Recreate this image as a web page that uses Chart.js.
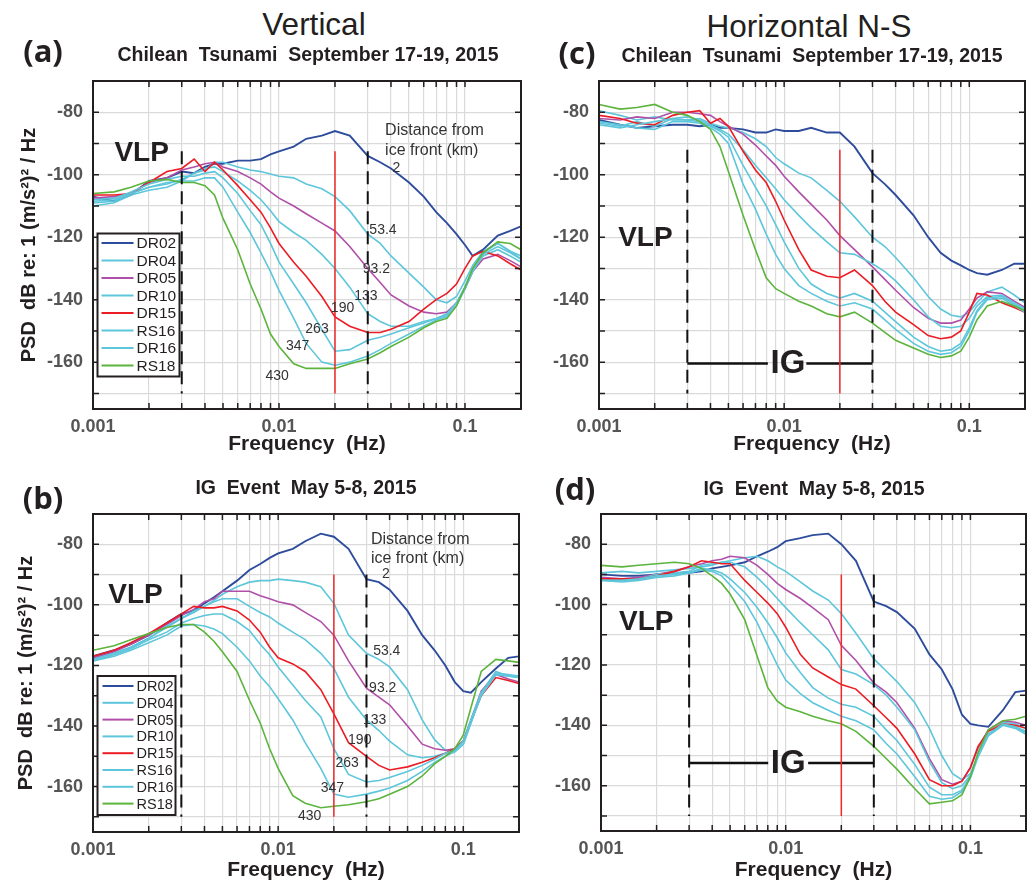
<!DOCTYPE html>
<html lang="en">
<head>
<meta charset="UTF-8">
<title>PSD spectra - Chilean tsunami and IG event</title>
<script src="https://cdn.jsdelivr.net/npm/chart.js"></script>
<style>
  body { margin: 0; background: #fff; }
  #fig { position: relative; width: 1035px; height: 883px; overflow: hidden; background: #fff;
         font-family: "Liberation Sans", Arial, Helvetica, sans-serif; color: #231f20; }
  #fig canvas { position: absolute; }
  .t { position: absolute; white-space: pre; line-height: 1; transform: translate(-50%, -50%); }
  .big { font-size: 31.5px; }
  .sub { font-size: 19.5px; font-weight: bold; }
  .tag { font-family: "Open Sans", sans-serif; font-weight: 700; font-size: 31px; }
</style>
</head>
<body>
<div id="fig">
  <canvas id="pa"></canvas>
  <canvas id="pb"></canvas>
  <canvas id="pc"></canvas>
  <canvas id="pd"></canvas>

  <div class="t big" style="left:314px;top:25px">Vertical</div>
  <div class="t big" style="left:809px;top:27px">Horizontal N-S</div>
  <div class="t tag" style="left:43px;top:50px">(a)</div>
  <div class="t tag" style="left:577px;top:52px">(c)</div>
  <div class="t tag" style="left:43px;top:497px">(b)</div>
  <div class="t tag" style="left:575px;top:488px">(d)</div>
  <div class="t sub" style="left:308px;top:55px">Chilean  Tsunami  September 17-19, 2015</div>
  <div class="t sub" style="left:812px;top:56px">Chilean  Tsunami  September 17-19, 2015</div>
  <div class="t sub" style="left:306px;top:488px">IG  Event  May 5-8, 2015</div>
  <div class="t sub" style="left:814px;top:489px">IG  Event  May 5-8, 2015</div>
</div>

<script>
// frequencies (Hz) shared by every spectrum
const freqs = [0.001, 0.0013, 0.0016, 0.002, 0.0025, 0.003, 0.0035, 0.004, 0.0045, 0.005,
               0.006, 0.007, 0.008, 0.009, 0.01, 0.012, 0.014, 0.017, 0.02, 0.024,
               0.03, 0.035, 0.04, 0.05, 0.06, 0.07, 0.08, 0.09, 0.1, 0.11,
               0.125, 0.15, 0.175, 0.2];

const stations = ['DR02', 'DR04', 'DR05', 'DR10', 'DR15', 'RS16', 'DR16', 'RS18'];

// (a) vertical, Chilean tsunami
const a_DR02 = [-107, -108.5, -106.5, -102, -101, -99, -99.5, -97.5, -96.5, -96.5, -95.5, -95.5, -95, -93.5, -92.5, -91, -88.5, -87.5, -86, -87.5, -94, -96, -98, -102.5, -107, -112, -115.5, -119, -122.5, -126, -124, -119.5, -118, -116.5];
const a_DR04 = [-109, -108.5, -106, -104, -103, -101.5, -99.5, -98.5, -96, -96, -97.5, -98.5, -99, -99.8, -100.5, -101, -103, -104.5, -107, -111.5, -119, -122, -126, -131.5, -136, -140, -141, -139, -134, -129, -124.5, -122, -124.5, -127];
const a_DR05 = [-107.5, -107, -106, -102.5, -101, -98.5, -97.5, -96.5, -96, -97.5, -99, -101, -103, -105.5, -107.5, -110, -112.5, -115.5, -118, -123, -130, -134.5, -138.5, -142, -144, -144.5, -144, -141, -136.5, -131, -127, -125.5, -127.5, -129.5];
const a_DR10 = [-110, -109, -106.5, -105, -104, -102, -99.5, -98, -97.5, -99, -102, -105, -108, -111.5, -115, -118.5, -121, -125.5, -130, -136, -144.5, -147, -148.5, -148.5, -147, -146, -144.5, -141, -136, -130.5, -126, -124, -126, -128];
const a_DR15 = [-106.5, -106.5, -106, -102.5, -99, -98, -95, -99, -96, -98.5, -103.5, -108, -112, -117, -122, -128, -132.5, -139, -145.5, -148.5, -150.5, -150.5, -149.5, -147, -143, -140, -138, -135, -130, -126, -124.5, -126, -128.5, -130.5];
const a_RS16 = [-108, -107.5, -105.5, -103, -101.5, -100.5, -100.5, -99.5, -99, -101, -106, -111.5, -116, -122, -128, -135, -141, -149.5, -156.5, -156, -153, -152, -151, -149, -147.5, -146, -145, -141, -136, -130, -125, -122, -124.5, -126];
const a_DR16 = [-108.5, -108, -106, -104, -102.5, -102, -102, -101, -101, -104, -112, -118.5, -125, -131, -137, -146, -154, -160, -161, -160, -158, -156, -154, -151, -148.5, -146.5, -145.5, -142, -136.5, -131, -125.5, -123, -125, -127];
const a_RS18 = [-106, -105.5, -104, -102, -101.5, -102.5, -102.5, -103.5, -106.5, -114, -124, -135, -143, -151, -155, -160.5, -162, -162, -162, -160.5, -159, -157, -155, -152, -149, -147, -146, -142, -136, -130, -125, -121.5, -122, -124];

// (b) vertical, IG event
const b_DR02 = [-117, -115, -113, -110, -106, -103, -102, -99.5, -97.5, -95.5, -92, -88.5, -86.5, -84.5, -83, -81.5, -79, -76.5, -77.5, -81.5, -91.5, -92.5, -95, -102, -110, -115, -120, -125.5, -128.5, -129, -125.5, -121, -117.5, -117];
const b_DR04 = [-118, -116, -114, -111, -107.5, -104.5, -102.5, -100.5, -98.5, -96.5, -94, -92.5, -92, -92, -91.5, -92, -92.5, -94, -99.5, -110, -116, -118, -120.5, -128, -138, -144.5, -148, -148.5, -146, -139, -129, -122, -123.5, -124];
const b_DR05 = [-117.5, -115.5, -113, -110, -106.5, -103.5, -101.5, -99, -98, -95.5, -95.5, -95.5, -97, -98, -99, -100, -102.5, -105.5, -110, -118.5, -127.5, -130.5, -133, -140, -146, -147.5, -148, -147.5, -145, -138, -128.5, -123, -124.5, -125.5];
const b_DR10 = [-118, -116, -114, -111, -107, -104.5, -102, -100.5, -99, -98, -98, -100.5, -102.5, -104, -106, -109, -111.5, -116, -121, -130.5, -138, -141.5, -145, -149.5, -150.5, -150, -149, -148, -145, -138, -129, -123, -123.5, -124];
const b_DR15 = [-117, -115, -112.5, -109.5, -106, -103, -100.5, -101, -101, -100.5, -102, -105, -109, -114, -117.5, -119.5, -122, -128, -136, -145.5, -150, -153, -154.5, -153.5, -152, -150.5, -149, -147.5, -145, -138.5, -130, -124, -125, -126];
const b_RS16 = [-118.5, -116.5, -114.5, -111.5, -109, -106, -104.5, -103.5, -103, -103, -105.5, -108.5, -113, -116.5, -120.5, -126.5, -131.5, -137, -147.5, -156, -158.5, -158, -157, -155, -153, -151, -149, -148, -145, -138, -129, -122.5, -123, -123.5];
const b_DR16 = [-118.5, -117, -115, -112.5, -110, -107, -106.5, -107, -108, -109.5, -114, -118.5, -123.5, -127, -131, -138, -145.5, -154, -162.5, -163.5, -162.5, -161.5, -160.5, -158, -155, -152, -150, -148.5, -146, -139, -130, -123, -123.5, -124];
const b_RS18 = [-115, -113.5, -111.5, -109.5, -107.5, -106.5, -106.5, -109, -112, -115.5, -122, -131.5, -139, -147.5, -154, -163, -165.5, -167, -166.5, -166, -165, -164, -162.5, -160, -156.5, -152.5, -150, -147.5, -143, -134, -122, -118, -118.5, -119];

// (c) horizontal N-S, Chilean tsunami
const c_DR02 = [-82.5, -84, -85, -84.5, -84, -84, -84.5, -84, -85, -85, -85.5, -86.5, -86.5, -85.5, -86, -86, -85, -86.5, -86.5, -91, -99.5, -103, -106.5, -113, -120, -125, -127.5, -129, -130.5, -131.5, -132, -130.5, -128.5, -128.5];
const c_DR04 = [-79.5, -81, -82.5, -81.5, -82.5, -82.5, -82, -83.5, -84.5, -85, -86.5, -88.5, -91, -94.5, -96.5, -99.5, -101, -105, -108.5, -113.5, -120, -123, -126.5, -133, -139, -143, -145, -145.5, -144, -141, -137.5, -136, -138.5, -141];
const c_DR05 = [-82, -82.5, -81.5, -82, -80, -80, -80.5, -81, -83, -84.5, -87, -90.5, -94, -97, -100.5, -105.5, -109.5, -114.5, -119.5, -124, -129.5, -133.5, -137, -142.5, -146, -147.5, -147.5, -146.5, -143, -139.5, -137.5, -138, -140.5, -142.5];
const c_DR10 = [-83.5, -84.5, -83, -84.5, -82, -81.5, -82.5, -84, -85.5, -87, -92, -97, -101, -104.5, -108, -113, -117, -121.5, -125, -125.5, -128.5, -131, -134, -140, -145.5, -148.5, -149, -148.5, -146, -142, -139, -138.5, -141, -143];
const c_DR15 = [-81, -82, -83.5, -84, -81, -80, -79.5, -83.5, -82, -84.5, -92.5, -98.5, -102.5, -108.5, -114.5, -124, -130.5, -132.5, -133, -130.5, -135.5, -140.5, -144, -148, -151.5, -152.5, -152, -150, -144, -138, -138.5, -141, -142.5, -144];
const c_RS16 = [-84, -85, -84, -83, -82, -82.5, -83, -84.5, -86, -88, -97, -104, -110, -116, -121.5, -130, -135, -138, -139.5, -138, -140.5, -144, -147, -152, -155, -156.5, -156, -154, -149, -143.5, -139.5, -139, -141.5, -143.5];
const c_DR16 = [-83, -84, -85, -85.5, -83, -83, -83.5, -85, -87, -90, -103, -111, -119, -125.5, -130, -135.5, -138, -140.5, -142, -141, -143, -146.5, -149.5, -154, -156.5, -157.5, -157, -155, -150, -144, -140, -139.5, -142, -144];
const c_RS18 = [-77.5, -79, -78.5, -77.5, -80, -81, -83, -85.5, -91, -99, -113, -124, -133, -136.5, -138, -140.5, -142, -144.5, -145.5, -144, -147.5, -150.5, -153, -155.5, -157.5, -158.5, -158, -156.5, -152, -146.5, -142, -140.5, -142, -143.5];

// (d) horizontal N-S, IG event
const d_DR02 = [-90, -90.5, -90.5, -90, -89.5, -89.5, -89, -88, -87.5, -87, -86, -84, -82.5, -81, -79, -78, -77, -76.5, -80, -85.5, -99, -100.5, -102.5, -108, -116.5, -121.5, -128, -136.5, -139.5, -140, -140.5, -135, -129, -128.5];
const d_DR04 = [-89.5, -89, -89.5, -89, -88.5, -88, -87.5, -87, -86, -85.5, -84.5, -84, -85.5, -87.5, -89, -92.5, -95.5, -98.5, -103, -109.5, -118, -122, -125.5, -132.5, -141, -150, -156, -158, -156, -150, -143, -139, -139.5, -141];
const d_DR05 = [-91, -91.5, -91, -90, -89, -87.5, -86.5, -85.5, -85, -84, -84.5, -87, -90, -93, -95, -98, -101, -105, -113.5, -118.5, -126, -129, -132.5, -141, -151, -158, -159.5, -158.5, -154, -147.5, -141.5, -138.5, -139, -140];
const d_DR10 = [-91.5, -92, -91.5, -90, -89.5, -89, -87, -86.5, -86, -86, -87.5, -91, -94.5, -98, -101, -106, -110, -115, -121.5, -123, -126.5, -130, -134, -141.5, -152, -159, -161, -160, -156.5, -150, -143, -139.5, -140.5, -142];
const d_DR15 = [-91.5, -91.5, -91.5, -90.5, -89, -87.5, -85.5, -86, -86.5, -86.5, -92, -96, -99.5, -103, -107.5, -116.5, -121, -124, -126.5, -128, -133.5, -137.5, -141, -149.5, -158, -160, -160, -158.5, -154, -147, -142, -139.5, -140, -141];
const d_RS16 = [-92, -92, -91.5, -90.5, -90, -89.5, -88, -88.5, -89.5, -91.5, -96, -101, -106, -111, -116, -122.5, -127.5, -131, -133, -134, -137, -141.5, -145, -153, -160.5, -163, -163, -161.5, -157, -150, -143, -139.5, -140.5, -142.5];
const d_DR16 = [-92, -92.5, -92, -91, -90.5, -89.5, -88.5, -89, -90.5, -93.5, -99, -106, -113.5, -120, -125, -129.5, -132.5, -135, -137, -138.5, -141.5, -146, -149.5, -157, -163.5, -164.5, -164, -162, -157.5, -150.5, -143.5, -140, -141, -143];
const d_RS18 = [-87, -87.5, -87, -86.5, -86, -86.5, -88, -90.5, -93, -96.5, -105, -117, -127.5, -132, -134, -135.5, -137, -138.5, -139.5, -142, -147, -151, -154.5, -161, -166, -165.5, -165, -163, -157, -149, -141.5, -138.5, -138, -137];

// axes
const xTicks = [0.001, 0.002, 0.003, 0.004, 0.005, 0.006, 0.007, 0.008, 0.009,
                0.01, 0.02, 0.03, 0.04, 0.05, 0.06, 0.07, 0.08, 0.09, 0.1, 0.2];
const xLabelValues = [0.001, 0.01, 0.1];
const xLabelText = ['0.001', '0.01', '0.1'];
const yTicks = [-170, -160, -150, -140, -130, -120, -110, -100, -90, -80, -70];
const yLabelValues = [-160, -140, -120, -100, -80];

// band markers: IG band edges (dashed) and 0.02 Hz reference (red)
const bandEdges = [0.003, 0.03];
const refFreq = 0.02;
const markTop = [-92.5, -90, -92, -90];      // a, b, c, d
const markBottom = -170;

// distance labels (km) in (a) and (b)
const distanceKm = ['2', '53.4', '93.2', '133', '190', '263', '347', '430'];
const aKmFreq = [0.0407, 0.0306, 0.0282, 0.02535, 0.019, 0.01385, 0.0109, 0.00845];
const aKmDb = [-97.8, -117.7, -130.3, -138.8, -142.8, -149.5, -155, -164.5];
const bKmFreq = [0.03644, 0.0326, 0.031, 0.02875, 0.02386, 0.0204, 0.017, 0.0128];
const bKmDb = [-90, -115.2, -127.4, -138.2, -144.7, -152.4, -160.4, -169.8];
const noteLines = ['Distance from', 'ice front (km)'];
const noteFreq = [0.03718, 0.0317];          // a, b
const aNoteDb = [-86, -92.4];
const bNoteDb = [-78.6, -84.7];

// VLP / IG labels
const vlpFreq = [0.001826, 0.001696, 0.00178, 0.001758];   // a, b, c, d
const vlpDb = [-93.2, -96.7, -120.3, -105.8];
const igFreq = [0.01048, 0.01032];                          // c, d
const igDb = [-160.4, -152.5];
const igGapLo = [0.00817, 0.00804];
const igGapHi = [0.01318, 0.01323];

const FONT = '"Liberation Sans", Arial, Helvetica, sans-serif';
const INK = '#231f20';
const colors = ['#2e4c9c', '#5ec6db', '#b04fa8', '#5ec6db', '#ec1c24', '#5ec6db', '#5ec6db', '#5cb43c'];

Chart.defaults.font.family = FONT;
Chart.defaults.color = INK;

const panels = [
  { id: 'pa', box: [0, 62, 530, 400], plot: [93, 71, 522, 409], k: 0,
    series: [a_DR02, a_DR04, a_DR05, a_DR10, a_DR15, a_RS16, a_DR16, a_RS18],
    yTitle: 19, xTitlePad: 7,
    legend: { dx: 4.5, dy: 32.5, w: 82, h: 143, first: 9.5, step: 17.5, lx: 4, lw: 32, tx: 39, size: 15.5 },
    km: [aKmFreq, aKmDb], note: [noteFreq[0], aNoteDb] },
  { id: 'pb', box: [0, 495, 530, 388], plot: [93, 505, 519, 832], k: 1,
    series: [b_DR02, b_DR04, b_DR05, b_DR10, b_DR15, b_RS16, b_DR16, b_RS18],
    yTitle: 16, xTitlePad: 2,
    legend: { dx: 4.5, dy: 17, w: 78, h: 139, first: 10, step: 16.8, lx: 5, lw: 31, tx: 39, size: 14.5 },
    km: [bKmFreq, bKmDb], note: [noteFreq[1], bNoteDb] },
  { id: 'pc', box: [530, 62, 505, 400], plot: [599, 72, 1025, 409], k: 2,
    series: [c_DR02, c_DR04, c_DR05, c_DR10, c_DR15, c_RS16, c_DR16, c_RS18],
    yTitle: 0, xTitlePad: 7, ig: 0 },
  { id: 'pd', box: [530, 495, 505, 388], plot: [601, 504, 1026, 831], k: 3,
    series: [d_DR02, d_DR04, d_DR05, d_DR10, d_DR15, d_RS16, d_DR16, d_RS18],
    yTitle: 0, xTitlePad: 2, ig: 1 }
];

function overlayFor(p) {
  return {
    id: 'overlay',
    afterDatasetsDraw(chart) {
      const ctx = chart.ctx, ca = chart.chartArea;
      const xs = chart.scales.x, ys = chart.scales.y;
      const X = v => xs.getPixelForValue(v), Y = v => ys.getPixelForValue(v);
      ctx.save();

      // box and inward ticks on all four sides
      ctx.strokeStyle = INK;
      ctx.lineWidth = 2;
      ctx.strokeRect(ca.left, ca.top, ca.right - ca.left, ca.bottom - ca.top);
      ctx.lineWidth = 1.5;
      ctx.beginPath();
      xTicks.forEach(v => {
        const px = X(v);
        ctx.moveTo(px, ca.top); ctx.lineTo(px, ca.top + 6);
        ctx.moveTo(px, ca.bottom); ctx.lineTo(px, ca.bottom - 6);
      });
      yTicks.forEach(v => {
        const py = Y(v);
        ctx.moveTo(ca.left, py); ctx.lineTo(ca.left + 6, py);
        ctx.moveTo(ca.right, py); ctx.lineTo(ca.right - 6, py);
      });
      ctx.stroke();

      ctx.fillStyle = INK;
      ctx.textBaseline = 'middle';

      // VLP
      ctx.textAlign = 'center';
      ctx.font = 'bold 28px ' + FONT;
      ctx.fillText('VLP', X(vlpFreq[p.k]), Y(vlpDb[p.k]));

      // IG band label
      if (p.ig !== undefined) {
        ctx.font = 'bold 33px ' + FONT;
        ctx.fillText('IG', X(igFreq[p.ig]), Y(igDb[p.ig]) + 1);
      }

      // distances from ice front
      if (p.km) {
        ctx.textAlign = 'left';
        ctx.fillStyle = '#333';
        ctx.font = '14px ' + FONT;
        distanceKm.forEach((t, i) => ctx.fillText(t, X(p.km[0][i]), Y(p.km[1][i])));
        ctx.font = '16px ' + FONT;
        noteLines.forEach((t, i) => ctx.fillText(t, X(p.note[0]), Y(p.note[1][i])));
      }

      // legend
      if (p.legend) {
        const L = p.legend;
        const bx = ca.left + L.dx, by = ca.bottom - L.dy - L.h;
        ctx.fillStyle = '#fff';
        ctx.fillRect(bx, by, L.w, L.h);
        ctx.strokeStyle = INK;
        ctx.lineWidth = 2;
        ctx.strokeRect(bx, by, L.w, L.h);
        ctx.font = L.size + 'px ' + FONT;
        ctx.textAlign = 'left';
        stations.forEach((s, i) => {
          const ry = by + L.first + i * L.step;
          ctx.strokeStyle = colors[i];
          ctx.lineWidth = 2;
          ctx.beginPath();
          ctx.moveTo(bx + L.lx, ry); ctx.lineTo(bx + L.lx + L.lw, ry);
          ctx.stroke();
          ctx.fillStyle = INK;
          ctx.fillText(s, bx + L.tx, ry + 1);
        });
      }
      ctx.restore();
    }
  };
}

function segment(x0, x1, y0, y1, color, width, dash) {
  return {
    data: [{ x: x0, y: y0 }, { x: x1, y: y1 }],
    borderColor: color, borderWidth: width, borderDash: dash || [],
    pointRadius: 0, order: 0
  };
}

function buildPanel(p) {
  const canvas = document.getElementById(p.id);
  const [bl, bt, bw, bh] = p.box;
  canvas.width = bw; canvas.height = bh;
  canvas.style.left = bl + 'px'; canvas.style.top = bt + 'px';
  canvas.style.width = bw + 'px'; canvas.style.height = bh + 'px';

  const yw = p.plot[0] - bl;
  const padTop = p.plot[1] - bt;
  const padRight = bl + bw - p.plot[2];
  const xh = bt + bh - p.plot[3];

  const datasets = [];
  const top = markTop[p.k];
  bandEdges.forEach(f => datasets.push(segment(f, f, top, markBottom, '#111', 2, [13, 7])));
  datasets.push(segment(refFreq, refFreq, top, markBottom, '#ee2a2a', 1.5));
  if (p.ig !== undefined) {
    const lvl = igDb[p.ig];
    datasets.push(segment(bandEdges[0], igGapLo[p.ig], lvl, lvl, '#111', 2.5));
    datasets.push(segment(igGapHi[p.ig], bandEdges[1], lvl, lvl, '#111', 2.5));
  }
  p.series.forEach((vals, i) => {
    datasets.push({
      label: stations[i],
      data: freqs.map((f, j) => ({ x: f, y: vals[j] })),
      borderColor: colors[i],
      borderWidth: i === 0 ? 1.9 : 1.6,
      pointRadius: 0,
      tension: 0,
      order: stations.length - i
    });
  });

  const tickFont = { family: FONT, size: 18, weight: 'bold', lineHeight: 1 };
  const gridOpts = { color: '#dadada', lineWidth: 1.2, drawTicks: false };

  new Chart(canvas, {
    type: 'line',
    data: { datasets },
    options: {
      responsive: false,
      devicePixelRatio: 1,
      animation: false,
      events: [],
      layout: { padding: { left: 0, top: padTop, right: padRight, bottom: 0 } },
      plugins: { legend: { display: false }, tooltip: { enabled: false } },
      scales: {
        x: {
          type: 'logarithmic', min: 0.001, max: 0.2,
          afterBuildTicks: s => { s.ticks = xTicks.map(v => ({ value: v })); },
          afterFit: s => { s.height = xh; },
          border: { display: false },
          grid: gridOpts,
          ticks: {
            autoSkip: false, maxRotation: 0, padding: 9, color: '#555', font: tickFont,
            callback: v => { const i = xLabelValues.indexOf(v); return i >= 0 ? xLabelText[i] : ''; }
          },
          title: {
            display: true, text: 'Frequency  (Hz)', color: INK,
            font: { family: FONT, size: 21, weight: 'bold', lineHeight: 1 },
            padding: { top: 0, bottom: p.xTitlePad }
          }
        },
        y: {
          type: 'linear', min: -175, max: -70,
          afterBuildTicks: s => { s.ticks = yTicks.map(v => ({ value: v })); },
          afterFit: s => { s.width = yw; },
          border: { display: false },
          grid: gridOpts,
          ticks: {
            padding: 10, color: '#555', font: tickFont,
            callback: v => yLabelValues.includes(v) ? String(v) : ''
          },
          title: {
            display: p.yTitle > 0, text: 'PSD  dB re: 1 (m/s²)² / Hz', color: INK,
            font: { family: FONT, size: 20, weight: 'bold', lineHeight: 1 },
            padding: { top: p.yTitle, bottom: 0 }
          }
        }
      }
    },
    plugins: [overlayFor(p)]
  });
}

panels.forEach(buildPanel);
</script>
</body>
</html>
